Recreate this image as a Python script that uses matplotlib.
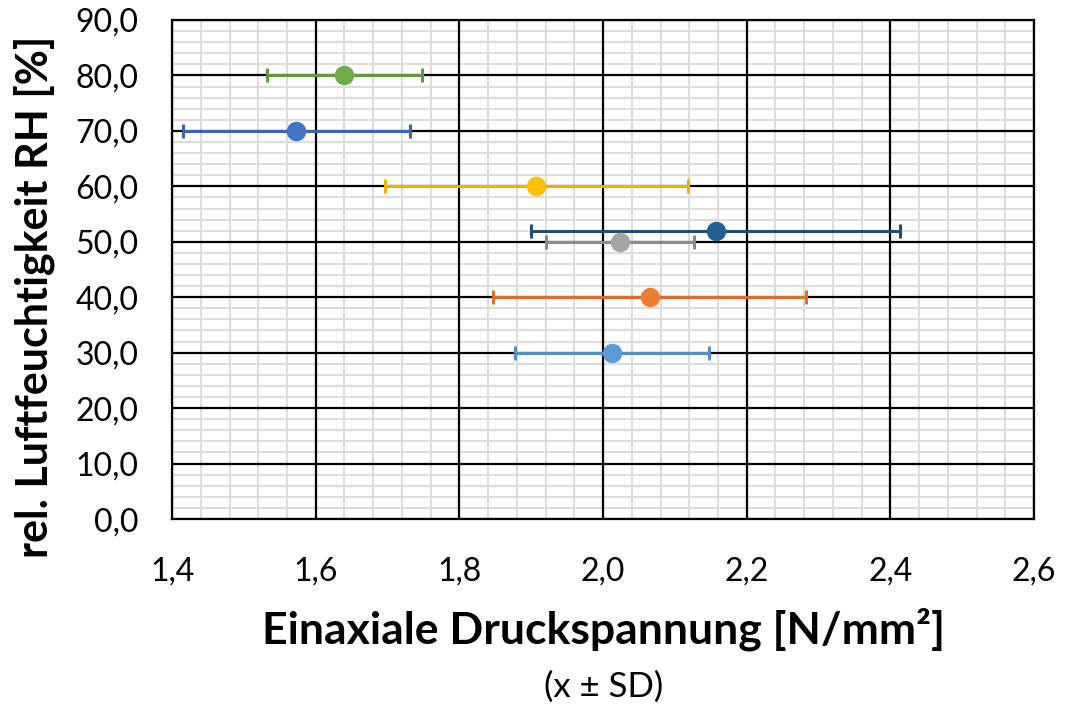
import matplotlib
matplotlib.use("Agg")
import matplotlib.pyplot as plt
from matplotlib.ticker import MultipleLocator, FuncFormatter

# Data
humidity = [80.0, 70.0, 60.0, 52.0, 50.0, 40.0, 30.0]
stress = [1.640, 1.573, 1.907, 2.157, 2.024, 2.065, 2.013]
sd = [0.108, 0.158, 0.211, 0.257, 0.103, 0.218, 0.135]
marker_colors = ["#70AD47", "#4472C4", "#FFC000", "#255E91", "#A5A5A5", "#ED7D31", "#5B9BD5"]
bar_colors = ["#62993D", "#3B64AE", "#EDB100", "#1F4E6E", "#8C8C8C", "#D9702A", "#5390C8"]

x_ticks = [1.4, 1.6, 1.8, 2.0, 2.2, 2.4, 2.6]
y_ticks = [0, 10, 20, 30, 40, 50, 60, 70, 80, 90]

plt.rcParams['font.family'] = ['Lato', 'DejaVu Sans']

fig = plt.figure(figsize=(10.66, 7.08), dpi=100)
ax = fig.add_axes([0.1614, 0.2669, 0.8086, 0.7049])

for xv, yv, s, mc, bc in zip(stress, humidity, sd, marker_colors, bar_colors):
    ax.errorbar([xv], [yv], xerr=[s], fmt='none', ecolor=bc, elinewidth=2.2,
                capsize=5, capthick=2.2, zorder=3)
    ax.plot([xv], [yv], 'o', color=mc, markersize=13, zorder=4)

ax.set_xlim(x_ticks[0], x_ticks[-1])
ax.set_ylim(y_ticks[0], y_ticks[-1])
ax.set_xticks(x_ticks)
ax.set_yticks(y_ticks)
ax.xaxis.set_minor_locator(MultipleLocator(0.04))
ax.yaxis.set_minor_locator(MultipleLocator(2))
ax.xaxis.set_major_formatter(FuncFormatter(lambda v, p: f"{v:.1f}".replace('.', ',')))
ax.yaxis.set_major_formatter(FuncFormatter(lambda v, p: f"{v:.1f}".replace('.', ',')))

ax.set_axisbelow(True)
ax.grid(which='minor', color='#DCDCDC', linewidth=1.4)
ax.grid(which='major', visible=False)
for xt in x_ticks:
    ax.axvline(xt, color='black', linewidth=1.6, zorder=1)
for yt in y_ticks:
    ax.axhline(yt, color='black', linewidth=1.6, zorder=1)

ax.tick_params(which='both', length=0)
ax.tick_params(axis='x', labelsize=23, pad=27)
ax.tick_params(axis='y', labelsize=23, pad=24)
for sp in ax.spines.values():
    sp.set_color('black')
    sp.set_linewidth(1.6)

fig.text(0.032, 0.58, "rel. Luftfeuchtigkeit RH [%]", fontsize=31, fontweight='bold',
         rotation=90, ha='center', va='center')
fig.text(0.566, 0.0904, "Einaxiale Druckspannung [N/mm²]", fontsize=32,
         fontweight='bold', ha='center', va='baseline')
fig.text(0.566, 0.0155, "(x ± SD)", fontsize=25, ha='center', va='baseline')

fig.savefig("out.png", dpi=100)
